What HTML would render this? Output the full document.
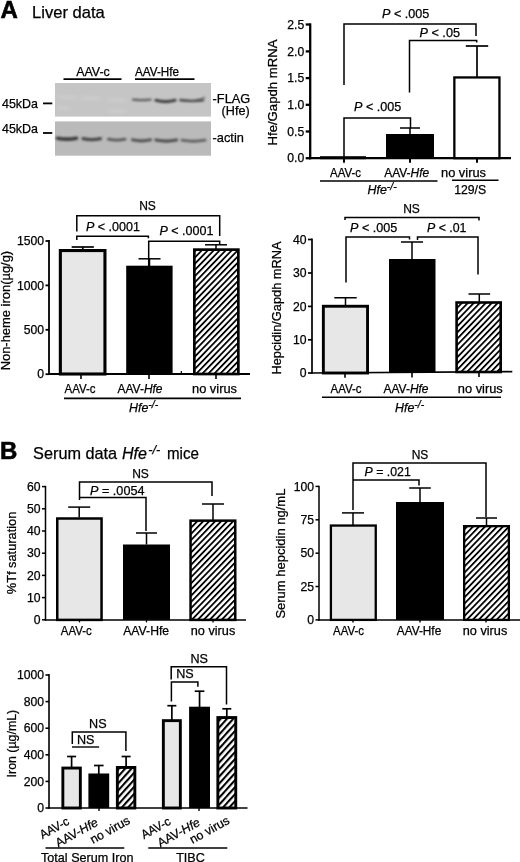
<!DOCTYPE html>
<html><head><meta charset="utf-8"><title>Figure</title>
<style>html,body{margin:0;padding:0;background:#fff}svg{display:block}text{font-family:"Liberation Sans", sans-serif;fill:#000;stroke:#000;stroke-width:0.25px}</style></head><body>
<svg width="520" height="862" viewBox="0 0 520 862">
<defs>
<pattern id="hatch" patternUnits="userSpaceOnUse" width="4.3" height="4.3" patternTransform="rotate(44)"><rect width="4.3" height="4.3" fill="#fff"/><rect x="0" y="0" width="1.8" height="4.3" fill="#000"/></pattern>
<pattern id="hatch6" patternUnits="userSpaceOnUse" width="4.7" height="4.7" patternTransform="rotate(42)"><rect width="4.7" height="4.7" fill="#fff"/><rect x="0" y="0" width="2.1" height="4.7" fill="#000"/></pattern>
<filter id="b1" filterUnits="userSpaceOnUse" x="40" y="80" width="190" height="80"><feGaussianBlur stdDeviation="1.3 0.95"/></filter>
<filter id="b2" filterUnits="userSpaceOnUse" x="40" y="80" width="190" height="80"><feGaussianBlur stdDeviation="2 1.5"/></filter>
</defs>
<rect width="520" height="862" fill="#fff"/>
<text x="0.5" y="18" font-size="24" text-anchor="start" font-weight="bold" font-style="normal" style="stroke-width:0.6px">A</text>
<text x="32" y="18" font-size="16.6" text-anchor="start" font-weight="normal" font-style="normal" textLength="72.8" lengthAdjust="spacingAndGlyphs">Liver data</text>
<text x="0" y="459" font-size="24" text-anchor="start" font-weight="bold" font-style="normal" style="stroke-width:0.6px">B</text>
<text x="33.1" y="459" font-size="16.6" text-anchor="start" font-weight="normal" font-style="normal" textLength="84" lengthAdjust="spacingAndGlyphs">Serum data</text>
<text x="122" y="459" font-size="16.6" text-anchor="start" font-weight="normal" font-style="italic" textLength="25" lengthAdjust="spacingAndGlyphs">Hfe</text>
<text x="148.3" y="454.3" font-size="13" text-anchor="start" font-weight="normal" font-style="italic" textLength="12" lengthAdjust="spacingAndGlyphs">-/-</text>
<text x="167" y="459" font-size="16.6" text-anchor="start" font-weight="normal" font-style="normal" textLength="32" lengthAdjust="spacingAndGlyphs">mice</text>
<rect x="55" y="83" width="156" height="33.6" fill="#c5c5c5"/>
<rect x="55" y="121.4" width="156" height="34.3" fill="#bababa"/>
<path d="M58,97 L76,97.5" stroke="#cdcdcd" stroke-width="3" fill="none" filter="url(#b2)"/>
<path d="M82,98 L100,98.5" stroke="#cdcdcd" stroke-width="3" fill="none" filter="url(#b2)"/>
<path d="M108,100 L125,100.5" stroke="#cdcdcd" stroke-width="3" fill="none" filter="url(#b2)"/>
<path d="M58,108 L70,108.5" stroke="#cdcdcd" stroke-width="3" fill="none" filter="url(#b2)"/>
<path d="M108,111 L125,111.5" stroke="#cdcdcd" stroke-width="3" fill="none" filter="url(#b2)"/>
<path d="M133,99.6 Q141.75,100.6 150.5,99.6" stroke="#606060" stroke-width="2.3" stroke-linecap="round" fill="none" filter="url(#b1)"/>
<path d="M156,100.3 Q165.5,102.89999999999999 175,100.3" stroke="#444" stroke-width="3.2" stroke-linecap="round" fill="none" filter="url(#b1)"/>
<path d="M180.5,100.2 Q191.75,101.8 203,100.2" stroke="#505050" stroke-width="2.7" stroke-linecap="round" fill="none" filter="url(#b1)"/>
<path d="M198,100.2 Q202,99.5 204.5,97.2" stroke="#666" stroke-width="1.4" stroke-linecap="round" fill="none" filter="url(#b1)"/>
<path d="M57.5,138.2 Q67.0,140.0 76.5,138.2" stroke="#3c3c3c" stroke-width="3.6" stroke-linecap="round" fill="none" filter="url(#b1)"/>
<path d="M83,138.6 Q91.75,140.6 100.5,138.6" stroke="#484848" stroke-width="3.2" stroke-linecap="round" fill="none" filter="url(#b1)"/>
<path d="M108.5,139.2 Q116.75,141.0 125,139.2" stroke="#585858" stroke-width="2.9" stroke-linecap="round" fill="none" filter="url(#b1)"/>
<path d="M132.5,139.8 Q141.5,141.8 150.5,139.8" stroke="#545454" stroke-width="3.2" stroke-linecap="round" fill="none" filter="url(#b1)"/>
<path d="M156,140.0 Q166.25,142.2 176.5,140.0" stroke="#505050" stroke-width="3.3" stroke-linecap="round" fill="none" filter="url(#b1)"/>
<path d="M182,140.2 Q193.5,142.39999999999998 205,140.2" stroke="#626262" stroke-width="2.9" stroke-linecap="round" fill="none" filter="url(#b1)"/>
<line x1="63.5" y1="79.2" x2="121.5" y2="79.2" stroke="#000" stroke-width="1.8" stroke-linecap="butt"/>
<line x1="135" y1="79.2" x2="194.5" y2="79.2" stroke="#000" stroke-width="1.8" stroke-linecap="butt"/>
<text x="93" y="76.3" font-size="12.8" text-anchor="middle" font-weight="normal" font-style="normal" textLength="33.5" lengthAdjust="spacingAndGlyphs">AAV-c</text>
<text x="135" y="76.3" font-size="12.6" text-anchor="start" font-weight="normal" font-style="normal" textLength="44" lengthAdjust="spacingAndGlyphs">AAV-Hfe</text>
<text x="2" y="107.8" font-size="13" text-anchor="start" font-weight="normal" font-style="normal" textLength="36" lengthAdjust="spacingAndGlyphs">45kDa</text>
<line x1="43" y1="103.4" x2="52.3" y2="103.4" stroke="#000" stroke-width="1.8" stroke-linecap="butt"/>
<text x="2" y="133.4" font-size="13" text-anchor="start" font-weight="normal" font-style="normal" textLength="36" lengthAdjust="spacingAndGlyphs">45kDa</text>
<line x1="43" y1="133" x2="52.3" y2="133" stroke="#000" stroke-width="1.8" stroke-linecap="butt"/>
<text x="212.6" y="102.5" font-size="12.8" text-anchor="start" font-weight="normal" font-style="normal">-FLAG</text>
<text x="221.6" y="115.3" font-size="12.6" text-anchor="start" font-weight="normal" font-style="normal">(Hfe)</text>
<text x="212.6" y="141.8" font-size="12.8" text-anchor="start" font-weight="normal" font-style="normal">-actin</text>
<line x1="310.2" y1="23.35" x2="310.2" y2="159.35" stroke="#000" stroke-width="2.3" stroke-linecap="butt"/>
<line x1="309.05" y1="158.2" x2="511" y2="158.2" stroke="#000" stroke-width="2.3" stroke-linecap="butt"/>
<line x1="305.7" y1="24.5" x2="310.2" y2="24.5" stroke="#000" stroke-width="2.3" stroke-linecap="butt"/>
<text x="304.2" y="28.7" font-size="12.2" text-anchor="end" font-weight="normal" font-style="normal">2.5</text>
<line x1="305.7" y1="51.4" x2="310.2" y2="51.4" stroke="#000" stroke-width="2.3" stroke-linecap="butt"/>
<text x="304.2" y="55.6" font-size="12.2" text-anchor="end" font-weight="normal" font-style="normal">2.0</text>
<line x1="305.7" y1="78.1" x2="310.2" y2="78.1" stroke="#000" stroke-width="2.3" stroke-linecap="butt"/>
<text x="304.2" y="82.3" font-size="12.2" text-anchor="end" font-weight="normal" font-style="normal">1.5</text>
<line x1="305.7" y1="104.8" x2="310.2" y2="104.8" stroke="#000" stroke-width="2.3" stroke-linecap="butt"/>
<text x="304.2" y="109.0" font-size="12.2" text-anchor="end" font-weight="normal" font-style="normal">1.0</text>
<line x1="305.7" y1="131.5" x2="310.2" y2="131.5" stroke="#000" stroke-width="2.3" stroke-linecap="butt"/>
<text x="304.2" y="135.7" font-size="12.2" text-anchor="end" font-weight="normal" font-style="normal">0.5</text>
<line x1="305.7" y1="158.2" x2="310.2" y2="158.2" stroke="#000" stroke-width="2.3" stroke-linecap="butt"/>
<text x="304.2" y="162.39999999999998" font-size="12.2" text-anchor="end" font-weight="normal" font-style="normal">0.0</text>
<line x1="344" y1="158.2" x2="344" y2="162.7" stroke="#000" stroke-width="2" stroke-linecap="butt"/>
<line x1="410" y1="158.2" x2="410" y2="162.7" stroke="#000" stroke-width="2" stroke-linecap="butt"/>
<line x1="477" y1="158.2" x2="477" y2="162.7" stroke="#000" stroke-width="2" stroke-linecap="butt"/>
<rect x="320" y="156.2" width="46" height="3.0" fill="#000"/>
<rect x="386" y="134" width="48" height="24.19999999999999" fill="#000"/>
<line x1="410" y1="128" x2="410" y2="134" stroke="#000" stroke-width="1.5" stroke-linecap="butt"/>
<line x1="400" y1="128" x2="420" y2="128" stroke="#000" stroke-width="1.5" stroke-linecap="butt"/>
<rect x="454.34999999999997" y="77.45" width="45.10000000000004" height="80.74999999999999" fill="#fff" stroke="#000" stroke-width="2.3"/>
<line x1="477" y1="46" x2="477" y2="78" stroke="#000" stroke-width="1.7" stroke-linecap="butt"/>
<line x1="465.8" y1="46" x2="488.2" y2="46" stroke="#000" stroke-width="1.7" stroke-linecap="butt"/>
<polyline points="344,85 344,24 476,24 476,36" fill="none" stroke="#000" stroke-width="1.5" stroke-linejoin="miter"/>
<polyline points="409.5,92.5 409.5,40.5 476.7,40.5 476.7,42.5" fill="none" stroke="#000" stroke-width="1.5" stroke-linejoin="miter"/>
<polyline points="344,158.2 344,118 410.5,118 410.5,128" fill="none" stroke="#000" stroke-width="1.5" stroke-linejoin="miter"/>
<text x="382" y="18" font-size="12.4" textLength="47.3" lengthAdjust="spacingAndGlyphs"><tspan font-style="italic">P</tspan> &lt; .005</text>
<text x="419.5" y="37" font-size="12.4" textLength="40.5" lengthAdjust="spacingAndGlyphs"><tspan font-style="italic">P</tspan> &lt; .05</text>
<text x="354" y="111" font-size="12.4" textLength="47.3" lengthAdjust="spacingAndGlyphs"><tspan font-style="italic">P</tspan> &lt; .005</text>
<text x="345.5" y="176.6" font-size="12.4" text-anchor="middle" font-weight="normal" font-style="normal" textLength="31" lengthAdjust="spacingAndGlyphs">AAV-c</text>
<text x="406.7" y="176.6" font-size="12.4" text-anchor="middle" textLength="45" lengthAdjust="spacingAndGlyphs">AAV-<tspan font-style="italic">Hfe</tspan></text>
<text x="463.5" y="176.6" font-size="12.4" text-anchor="middle" font-weight="normal" font-style="normal" textLength="45" lengthAdjust="spacingAndGlyphs">no virus</text>
<line x1="320" y1="181" x2="437.5" y2="181" stroke="#000" stroke-width="1.6" stroke-linecap="butt"/>
<line x1="452" y1="180.3" x2="498.5" y2="180.3" stroke="#000" stroke-width="1.6" stroke-linecap="butt"/>
<text x="367.5" y="194" font-size="12.4" font-style="italic">Hfe<tspan font-size="10.5" dy="-4">-/-</tspan></text>
<text x="470.2" y="193.6" font-size="12.4" text-anchor="middle" font-weight="normal" font-style="normal" textLength="32" lengthAdjust="spacingAndGlyphs">129/S</text>
<text x="276.5" y="92.5" font-size="12" text-anchor="middle" font-weight="normal" font-style="normal" transform="rotate(-90 276.5 92.5)" textLength="106" lengthAdjust="spacingAndGlyphs">Hfe/Gapdh mRNA</text>
<line x1="49" y1="240.1" x2="49" y2="374.9" stroke="#000" stroke-width="1.8" stroke-linecap="butt"/>
<line x1="48.1" y1="374" x2="250" y2="374" stroke="#000" stroke-width="1.8" stroke-linecap="butt"/>
<line x1="45.5" y1="241" x2="49" y2="241" stroke="#000" stroke-width="1.8" stroke-linecap="butt"/>
<text x="44.0" y="245.2" font-size="12.2" text-anchor="end" font-weight="normal" font-style="normal">1500</text>
<line x1="45.5" y1="285.4" x2="49" y2="285.4" stroke="#000" stroke-width="1.8" stroke-linecap="butt"/>
<text x="44.0" y="289.59999999999997" font-size="12.2" text-anchor="end" font-weight="normal" font-style="normal">1000</text>
<line x1="45.5" y1="329.8" x2="49" y2="329.8" stroke="#000" stroke-width="1.8" stroke-linecap="butt"/>
<text x="44.0" y="334.0" font-size="12.2" text-anchor="end" font-weight="normal" font-style="normal">500</text>
<line x1="45.5" y1="374.2" x2="49" y2="374.2" stroke="#000" stroke-width="1.8" stroke-linecap="butt"/>
<text x="44.0" y="378.4" font-size="12.2" text-anchor="end" font-weight="normal" font-style="normal">0</text>
<line x1="81" y1="374" x2="81" y2="379" stroke="#000" stroke-width="1.6" stroke-linecap="butt"/>
<line x1="149" y1="374" x2="149" y2="379" stroke="#000" stroke-width="1.6" stroke-linecap="butt"/>
<line x1="216" y1="374" x2="216" y2="379" stroke="#000" stroke-width="1.6" stroke-linecap="butt"/>
<rect x="60.349999999999994" y="250.55" width="44.6" height="123.45" fill="#e7e7e7" stroke="#000" stroke-width="3.1"/>
<line x1="82.75" y1="247" x2="82.75" y2="250" stroke="#000" stroke-width="1.7" stroke-linecap="butt"/>
<line x1="71.65" y1="247" x2="93.85" y2="247" stroke="#000" stroke-width="1.7" stroke-linecap="butt"/>
<rect x="126.2" y="265.7" width="46.39999999999999" height="108.30000000000001" fill="#000"/>
<line x1="149.5" y1="258.8" x2="149.5" y2="266" stroke="#000" stroke-width="1.5" stroke-linecap="butt"/>
<line x1="138.5" y1="258.8" x2="160.5" y2="258.8" stroke="#000" stroke-width="1.5" stroke-linecap="butt"/>
<rect x="194.35" y="249.65" width="43.999999999999986" height="124.35" fill="url(#hatch)" stroke="#000" stroke-width="2.7"/>
<line x1="216" y1="244.8" x2="216" y2="249" stroke="#000" stroke-width="1.5" stroke-linecap="butt"/>
<line x1="205" y1="244.8" x2="227" y2="244.8" stroke="#000" stroke-width="1.5" stroke-linecap="butt"/>
<polyline points="76.8,231.5 76.8,215.7 219.7,215.7 219.7,236" fill="none" stroke="#000" stroke-width="1.5" stroke-linejoin="miter"/>
<polyline points="76.8,240 76.8,236.2 148.4,236.2 148.4,238.3" fill="none" stroke="#000" stroke-width="1.5" stroke-linejoin="miter"/>
<polyline points="148.7,266 148.7,241.3 219.7,241.3 219.7,245" fill="none" stroke="#000" stroke-width="1.5" stroke-linejoin="miter"/>
<text x="147.5" y="210" font-size="12" text-anchor="middle" font-weight="normal" font-style="normal">NS</text>
<text x="86" y="230.5" font-size="12.4" textLength="54" lengthAdjust="spacingAndGlyphs"><tspan font-style="italic">P</tspan> &lt; .0001</text>
<text x="159.5" y="235" font-size="12.4" textLength="54" lengthAdjust="spacingAndGlyphs"><tspan font-style="italic">P</tspan> &lt; .0001</text>
<text x="80" y="393.3" font-size="12.4" text-anchor="middle" font-weight="normal" font-style="normal" textLength="31" lengthAdjust="spacingAndGlyphs">AAV-c</text>
<text x="140" y="393.3" font-size="12.4" text-anchor="middle" textLength="45" lengthAdjust="spacingAndGlyphs">AAV-<tspan font-style="italic">Hfe</tspan></text>
<text x="214.5" y="393.3" font-size="12.4" text-anchor="middle" font-weight="normal" font-style="normal" textLength="45" lengthAdjust="spacingAndGlyphs">no virus</text>
<line x1="64" y1="398.4" x2="241" y2="398.4" stroke="#000" stroke-width="1.6" stroke-linecap="butt"/>
<line x1="181.3" y1="371" x2="181.3" y2="374" stroke="#000" stroke-width="1.2" stroke-linecap="butt"/>
<text x="129" y="412" font-size="12.4" font-style="italic">Hfe<tspan font-size="10.5" dy="-4">-/-</tspan></text>
<text x="10.3" y="310.6" font-size="12" text-anchor="middle" font-weight="normal" font-style="normal" transform="rotate(-90 10.3 310.6)" textLength="119.5" lengthAdjust="spacingAndGlyphs">Non-heme iron(µg/g)</text>
<line x1="312" y1="238.55" x2="312" y2="373.85" stroke="#000" stroke-width="1.7" stroke-linecap="butt"/>
<line x1="311.15" y1="373" x2="512.3" y2="371.7" stroke="#000" stroke-width="1.7" stroke-linecap="butt"/>
<line x1="308" y1="239.5" x2="312" y2="239.5" stroke="#000" stroke-width="1.7" stroke-linecap="butt"/>
<text x="306.5" y="243.7" font-size="12.2" text-anchor="end" font-weight="normal" font-style="normal">40</text>
<line x1="308" y1="273" x2="312" y2="273" stroke="#000" stroke-width="1.7" stroke-linecap="butt"/>
<text x="306.5" y="277.2" font-size="12.2" text-anchor="end" font-weight="normal" font-style="normal">30</text>
<line x1="308" y1="306.4" x2="312" y2="306.4" stroke="#000" stroke-width="1.7" stroke-linecap="butt"/>
<text x="306.5" y="310.59999999999997" font-size="12.2" text-anchor="end" font-weight="normal" font-style="normal">20</text>
<line x1="308" y1="339.8" x2="312" y2="339.8" stroke="#000" stroke-width="1.7" stroke-linecap="butt"/>
<text x="306.5" y="344.0" font-size="12.2" text-anchor="end" font-weight="normal" font-style="normal">10</text>
<line x1="308" y1="373" x2="312" y2="373" stroke="#000" stroke-width="1.7" stroke-linecap="butt"/>
<text x="306.5" y="377.2" font-size="12.2" text-anchor="end" font-weight="normal" font-style="normal">0</text>
<line x1="345" y1="372.8" x2="345" y2="377.8" stroke="#000" stroke-width="1.6" stroke-linecap="butt"/>
<line x1="412" y1="372.4" x2="412" y2="377.4" stroke="#000" stroke-width="1.6" stroke-linecap="butt"/>
<line x1="479" y1="371.9" x2="479" y2="376.9" stroke="#000" stroke-width="1.6" stroke-linecap="butt"/>
<rect x="323.34999999999997" y="306.25" width="44.200000000000024" height="66.74999999999999" fill="#e7e7e7" stroke="#000" stroke-width="2.9"/>
<line x1="345.5" y1="297.75" x2="345.5" y2="305.5" stroke="#000" stroke-width="1.5" stroke-linecap="butt"/>
<line x1="334.3" y1="297.75" x2="356.7" y2="297.75" stroke="#000" stroke-width="1.5" stroke-linecap="butt"/>
<rect x="389" y="259" width="46.5" height="113.5" fill="#000"/>
<line x1="412" y1="242" x2="412" y2="259" stroke="#000" stroke-width="1.5" stroke-linecap="butt"/>
<line x1="401" y1="242" x2="423" y2="242" stroke="#000" stroke-width="1.5" stroke-linecap="butt"/>
<rect x="456.6" y="302.5" width="44.09999999999999" height="69.50000000000001" fill="url(#hatch)" stroke="#000" stroke-width="2.6"/>
<line x1="479.3" y1="294" x2="479.3" y2="302" stroke="#000" stroke-width="1.5" stroke-linecap="butt"/>
<line x1="468.5" y1="294" x2="490.1" y2="294" stroke="#000" stroke-width="1.5" stroke-linecap="butt"/>
<polyline points="345,220 345,217.5 479,217.5 479,220.5" fill="none" stroke="#000" stroke-width="1.5" stroke-linejoin="miter"/>
<polyline points="346,282.5 346,237 409.5,237 409.5,239.5" fill="none" stroke="#000" stroke-width="1.5" stroke-linejoin="miter"/>
<polyline points="417.5,240 417.5,237 478,237 478,274.5" fill="none" stroke="#000" stroke-width="1.5" stroke-linejoin="miter"/>
<text x="411.5" y="213" font-size="12" text-anchor="middle" font-weight="normal" font-style="normal">NS</text>
<text x="350" y="232" font-size="12.4" textLength="47.3" lengthAdjust="spacingAndGlyphs"><tspan font-style="italic">P</tspan> &lt; .005</text>
<text x="427" y="232" font-size="12.4" textLength="39.5" lengthAdjust="spacingAndGlyphs"><tspan font-style="italic">P</tspan> &lt; .01</text>
<text x="346" y="392.5" font-size="12.4" text-anchor="middle" font-weight="normal" font-style="normal" textLength="31" lengthAdjust="spacingAndGlyphs">AAV-c</text>
<text x="406" y="392.5" font-size="12.4" text-anchor="middle" textLength="45" lengthAdjust="spacingAndGlyphs">AAV-<tspan font-style="italic">Hfe</tspan></text>
<text x="480.3" y="392.5" font-size="12.4" text-anchor="middle" font-weight="normal" font-style="normal" textLength="45" lengthAdjust="spacingAndGlyphs">no virus</text>
<line x1="322" y1="397.3" x2="501" y2="397.3" stroke="#000" stroke-width="1.6" stroke-linecap="butt"/>
<text x="395" y="411.5" font-size="12.4" font-style="italic">Hfe<tspan font-size="10.5" dy="-4">-/-</tspan></text>
<text x="281" y="308" font-size="12" text-anchor="middle" font-weight="normal" font-style="normal" transform="rotate(-90 281 308)" textLength="133" lengthAdjust="spacingAndGlyphs">Hepcidin/Gapdh mRNA</text>
<line x1="45.5" y1="485.85" x2="45.5" y2="620.65" stroke="#000" stroke-width="1.5" stroke-linecap="butt"/>
<line x1="44.75" y1="619.9" x2="246" y2="619.9" stroke="#000" stroke-width="1.5" stroke-linecap="butt"/>
<line x1="42.0" y1="486.6" x2="45.5" y2="486.6" stroke="#000" stroke-width="1.5" stroke-linecap="butt"/>
<text x="40.5" y="490.8" font-size="12.2" text-anchor="end" font-weight="normal" font-style="normal">60</text>
<line x1="42.0" y1="508.8" x2="45.5" y2="508.8" stroke="#000" stroke-width="1.5" stroke-linecap="butt"/>
<text x="40.5" y="513.0" font-size="12.2" text-anchor="end" font-weight="normal" font-style="normal">50</text>
<line x1="42.0" y1="531" x2="45.5" y2="531" stroke="#000" stroke-width="1.5" stroke-linecap="butt"/>
<text x="40.5" y="535.2" font-size="12.2" text-anchor="end" font-weight="normal" font-style="normal">40</text>
<line x1="42.0" y1="553.2" x2="45.5" y2="553.2" stroke="#000" stroke-width="1.5" stroke-linecap="butt"/>
<text x="40.5" y="557.4000000000001" font-size="12.2" text-anchor="end" font-weight="normal" font-style="normal">30</text>
<line x1="42.0" y1="575.4" x2="45.5" y2="575.4" stroke="#000" stroke-width="1.5" stroke-linecap="butt"/>
<text x="40.5" y="579.6" font-size="12.2" text-anchor="end" font-weight="normal" font-style="normal">20</text>
<line x1="42.0" y1="597.6" x2="45.5" y2="597.6" stroke="#000" stroke-width="1.5" stroke-linecap="butt"/>
<text x="40.5" y="601.8000000000001" font-size="12.2" text-anchor="end" font-weight="normal" font-style="normal">10</text>
<line x1="42.0" y1="619.8" x2="45.5" y2="619.8" stroke="#000" stroke-width="1.5" stroke-linecap="butt"/>
<text x="40.5" y="624.0" font-size="12.2" text-anchor="end" font-weight="normal" font-style="normal">0</text>
<rect x="57.25" y="518.5" width="44.3" height="101.39999999999998" fill="#e7e7e7" stroke="#000" stroke-width="2.5"/>
<line x1="79.2" y1="507.1" x2="79.2" y2="517.5" stroke="#000" stroke-width="1.5" stroke-linecap="butt"/>
<line x1="68.2" y1="507.1" x2="90.2" y2="507.1" stroke="#000" stroke-width="1.5" stroke-linecap="butt"/>
<rect x="123" y="544.5" width="47" height="75.39999999999998" fill="#000"/>
<line x1="146.5" y1="533" x2="146.5" y2="544.5" stroke="#000" stroke-width="1.5" stroke-linecap="butt"/>
<line x1="136.0" y1="533" x2="157.0" y2="533" stroke="#000" stroke-width="1.5" stroke-linecap="butt"/>
<rect x="190.55" y="520.65" width="44.69999999999999" height="99.25" fill="url(#hatch)" stroke="#000" stroke-width="2.5"/>
<line x1="213" y1="504" x2="213" y2="520" stroke="#000" stroke-width="1.5" stroke-linecap="butt"/>
<line x1="202" y1="504" x2="224" y2="504" stroke="#000" stroke-width="1.5" stroke-linecap="butt"/>
<polyline points="79.5,500 79.5,482 212,482 212,496" fill="none" stroke="#000" stroke-width="1.5" stroke-linejoin="miter"/>
<polyline points="79.5,497.5 146,497.5 146,531" fill="none" stroke="#000" stroke-width="1.5" stroke-linejoin="miter"/>
<text x="140.5" y="477.5" font-size="12" text-anchor="middle" font-weight="normal" font-style="normal">NS</text>
<text x="90" y="495" font-size="12.4" textLength="54.5" lengthAdjust="spacingAndGlyphs"><tspan font-style="italic">P</tspan> = .0054</text>
<text x="76.3" y="634.7" font-size="12.4" text-anchor="middle" font-weight="normal" font-style="normal" textLength="31" lengthAdjust="spacingAndGlyphs">AAV-c</text>
<text x="146.2" y="634.7" font-size="12.6" text-anchor="middle" font-weight="normal" font-style="normal" textLength="46" lengthAdjust="spacingAndGlyphs">AAV-Hfe</text>
<text x="213" y="634.7" font-size="12.4" text-anchor="middle" font-weight="normal" font-style="normal" textLength="44.5" lengthAdjust="spacingAndGlyphs">no virus</text>
<line x1="79.5" y1="619.9" x2="79.5" y2="622.4" stroke="#000" stroke-width="1.3" stroke-linecap="butt"/>
<line x1="146.5" y1="619.9" x2="146.5" y2="622.4" stroke="#000" stroke-width="1.3" stroke-linecap="butt"/>
<line x1="213" y1="619.9" x2="213" y2="622.4" stroke="#000" stroke-width="1.3" stroke-linecap="butt"/>
<text x="16.3" y="553" font-size="12" text-anchor="middle" font-weight="normal" font-style="normal" transform="rotate(-90 16.3 553)" textLength="82.5" lengthAdjust="spacingAndGlyphs">%Tf saturation</text>
<line x1="319" y1="485.65" x2="319" y2="620.65" stroke="#000" stroke-width="1.5" stroke-linecap="butt"/>
<line x1="318.25" y1="619.9" x2="520" y2="619.9" stroke="#000" stroke-width="1.5" stroke-linecap="butt"/>
<line x1="315.5" y1="486.4" x2="319" y2="486.4" stroke="#000" stroke-width="1.5" stroke-linecap="butt"/>
<text x="314.0" y="490.59999999999997" font-size="12.2" text-anchor="end" font-weight="normal" font-style="normal">100</text>
<line x1="315.5" y1="519.8" x2="319" y2="519.8" stroke="#000" stroke-width="1.5" stroke-linecap="butt"/>
<text x="314.0" y="524.0" font-size="12.2" text-anchor="end" font-weight="normal" font-style="normal">75</text>
<line x1="315.5" y1="553.2" x2="319" y2="553.2" stroke="#000" stroke-width="1.5" stroke-linecap="butt"/>
<text x="314.0" y="557.4000000000001" font-size="12.2" text-anchor="end" font-weight="normal" font-style="normal">50</text>
<line x1="315.5" y1="586.5" x2="319" y2="586.5" stroke="#000" stroke-width="1.5" stroke-linecap="butt"/>
<text x="314.0" y="590.7" font-size="12.2" text-anchor="end" font-weight="normal" font-style="normal">25</text>
<line x1="315.5" y1="619.9" x2="319" y2="619.9" stroke="#000" stroke-width="1.5" stroke-linecap="butt"/>
<text x="314.0" y="624.1" font-size="12.2" text-anchor="end" font-weight="normal" font-style="normal">0</text>
<line x1="353" y1="619.9" x2="353" y2="622.4" stroke="#000" stroke-width="1.4" stroke-linecap="butt"/>
<line x1="420" y1="619.9" x2="420" y2="622.4" stroke="#000" stroke-width="1.4" stroke-linecap="butt"/>
<line x1="486" y1="619.9" x2="486" y2="622.4" stroke="#000" stroke-width="1.4" stroke-linecap="butt"/>
<rect x="330.9" y="525.55" width="44.84999999999998" height="94.35" fill="#e7e7e7" stroke="#000" stroke-width="2.3"/>
<line x1="353" y1="512.9" x2="353" y2="525" stroke="#000" stroke-width="1.5" stroke-linecap="butt"/>
<line x1="342" y1="512.9" x2="364" y2="512.9" stroke="#000" stroke-width="1.5" stroke-linecap="butt"/>
<rect x="396" y="502" width="48" height="117.89999999999998" fill="#000"/>
<line x1="420" y1="488" x2="420" y2="502" stroke="#000" stroke-width="1.5" stroke-linecap="butt"/>
<line x1="409.2" y1="488" x2="430.8" y2="488" stroke="#000" stroke-width="1.5" stroke-linecap="butt"/>
<rect x="464.15" y="526.15" width="44.7" height="93.74999999999997" fill="url(#hatch)" stroke="#000" stroke-width="2.3"/>
<line x1="486.5" y1="518" x2="486.5" y2="525" stroke="#000" stroke-width="1.5" stroke-linecap="butt"/>
<line x1="476.0" y1="518" x2="497.0" y2="518" stroke="#000" stroke-width="1.5" stroke-linecap="butt"/>
<polyline points="353,510 353,463 486,463 486,517" fill="none" stroke="#000" stroke-width="1.5" stroke-linejoin="miter"/>
<polyline points="353,480 419,480 419,485.5" fill="none" stroke="#000" stroke-width="1.5" stroke-linejoin="miter"/>
<text x="420" y="459" font-size="12" text-anchor="middle" font-weight="normal" font-style="normal">NS</text>
<text x="364.5" y="476" font-size="12.4" textLength="46.3" lengthAdjust="spacingAndGlyphs"><tspan font-style="italic">P</tspan> = .021</text>
<text x="348.5" y="634.6" font-size="12.4" text-anchor="middle" font-weight="normal" font-style="normal" textLength="31" lengthAdjust="spacingAndGlyphs">AAV-c</text>
<text x="419" y="634.6" font-size="12.4" text-anchor="middle" font-weight="normal" font-style="normal" textLength="44.5" lengthAdjust="spacingAndGlyphs">AAV-Hfe</text>
<text x="485" y="634.7" font-size="12.4" text-anchor="middle" font-weight="normal" font-style="normal" textLength="44.5" lengthAdjust="spacingAndGlyphs">no virus</text>
<text x="285" y="553.6" font-size="12" text-anchor="middle" font-weight="normal" font-style="normal" transform="rotate(-90 285 553.6)" textLength="130" lengthAdjust="spacingAndGlyphs">Serum hepcidin ng/mL</text>
<line x1="49" y1="673.9000000000001" x2="49" y2="808.8" stroke="#000" stroke-width="1.6" stroke-linecap="butt"/>
<line x1="48.2" y1="808" x2="247.5" y2="808" stroke="#000" stroke-width="1.6" stroke-linecap="butt"/>
<line x1="45.5" y1="675" x2="49" y2="675" stroke="#000" stroke-width="1.6" stroke-linecap="butt"/>
<text x="44.0" y="679.2" font-size="12.2" text-anchor="end" font-weight="normal" font-style="normal">1000</text>
<line x1="45.5" y1="701.6" x2="49" y2="701.6" stroke="#000" stroke-width="1.6" stroke-linecap="butt"/>
<text x="44.0" y="705.8000000000001" font-size="12.2" text-anchor="end" font-weight="normal" font-style="normal">800</text>
<line x1="45.5" y1="728.2" x2="49" y2="728.2" stroke="#000" stroke-width="1.6" stroke-linecap="butt"/>
<text x="44.0" y="732.4000000000001" font-size="12.2" text-anchor="end" font-weight="normal" font-style="normal">600</text>
<line x1="45.5" y1="754.8" x2="49" y2="754.8" stroke="#000" stroke-width="1.6" stroke-linecap="butt"/>
<text x="44.0" y="759.0" font-size="12.2" text-anchor="end" font-weight="normal" font-style="normal">400</text>
<line x1="45.5" y1="781.4" x2="49" y2="781.4" stroke="#000" stroke-width="1.6" stroke-linecap="butt"/>
<text x="44.0" y="785.6" font-size="12.2" text-anchor="end" font-weight="normal" font-style="normal">200</text>
<line x1="45.5" y1="808" x2="49" y2="808" stroke="#000" stroke-width="1.6" stroke-linecap="butt"/>
<text x="44.0" y="812.2" font-size="12.2" text-anchor="end" font-weight="normal" font-style="normal">0</text>
<line x1="99" y1="808" x2="99" y2="811" stroke="#000" stroke-width="1.4" stroke-linecap="butt"/>
<line x1="199" y1="808" x2="199" y2="811" stroke="#000" stroke-width="1.4" stroke-linecap="butt"/>
<rect x="62.85" y="768.0500000000001" width="17.5" height="39.949999999999974" fill="#e7e7e7" stroke="#000" stroke-width="2.9"/>
<line x1="71.6" y1="756.5" x2="71.6" y2="767.6" stroke="#000" stroke-width="1.7" stroke-linecap="butt"/>
<line x1="67.1" y1="756.5" x2="76.1" y2="756.5" stroke="#000" stroke-width="1.7" stroke-linecap="butt"/>
<rect x="88.4" y="773.5" width="20.799999999999997" height="34.5" fill="#000"/>
<line x1="98.80000000000001" y1="765.5" x2="98.80000000000001" y2="774.5" stroke="#000" stroke-width="1.7" stroke-linecap="butt"/>
<line x1="94.00000000000001" y1="765.5" x2="103.60000000000001" y2="765.5" stroke="#000" stroke-width="1.7" stroke-linecap="butt"/>
<rect x="117.35000000000001" y="767.45" width="17.500000000000007" height="40.55" fill="url(#hatch6)" stroke="#000" stroke-width="2.9"/>
<line x1="126.10000000000001" y1="756.5" x2="126.10000000000001" y2="767" stroke="#000" stroke-width="1.7" stroke-linecap="butt"/>
<line x1="121.60000000000001" y1="756.5" x2="130.60000000000002" y2="756.5" stroke="#000" stroke-width="1.7" stroke-linecap="butt"/>
<rect x="163.35" y="720.6500000000001" width="17.000000000000007" height="87.34999999999995" fill="#e7e7e7" stroke="#000" stroke-width="2.9"/>
<line x1="171.85000000000002" y1="705.7" x2="171.85000000000002" y2="720.2" stroke="#000" stroke-width="1.7" stroke-linecap="butt"/>
<line x1="167.35000000000002" y1="705.7" x2="176.35000000000002" y2="705.7" stroke="#000" stroke-width="1.7" stroke-linecap="butt"/>
<rect x="189.1" y="706.7" width="20.900000000000006" height="101.29999999999995" fill="#000"/>
<line x1="199.55" y1="691.2" x2="199.55" y2="707.7" stroke="#000" stroke-width="1.7" stroke-linecap="butt"/>
<line x1="194.75" y1="691.2" x2="204.35000000000002" y2="691.2" stroke="#000" stroke-width="1.7" stroke-linecap="butt"/>
<rect x="217.85" y="717.5500000000001" width="17.899999999999984" height="90.44999999999997" fill="url(#hatch6)" stroke="#000" stroke-width="2.9"/>
<line x1="226.8" y1="708.8" x2="226.8" y2="717.1" stroke="#000" stroke-width="1.7" stroke-linecap="butt"/>
<line x1="222.3" y1="708.8" x2="231.3" y2="708.8" stroke="#000" stroke-width="1.7" stroke-linecap="butt"/>
<polyline points="72.3,744 72.3,732 125.9,732 125.9,751" fill="none" stroke="#000" stroke-width="1.5" stroke-linejoin="miter"/>
<line x1="72" y1="747" x2="99.1" y2="747" stroke="#000" stroke-width="1.4" stroke-linecap="butt"/>
<text x="97.8" y="727.5" font-size="12.6" text-anchor="middle" font-weight="normal" font-style="normal">NS</text>
<text x="85.7" y="743.5" font-size="12.6" text-anchor="middle" font-weight="normal" font-style="normal">NS</text>
<polyline points="171.2,679.4 171.2,666.8 226.5,666.8 226.5,704.5" fill="none" stroke="#000" stroke-width="1.5" stroke-linejoin="miter"/>
<polyline points="171.4,701.6 171.4,682 197.9,682 197.9,686.7" fill="none" stroke="#000" stroke-width="1.5" stroke-linejoin="miter"/>
<text x="199.2" y="662.5" font-size="12.6" text-anchor="middle" font-weight="normal" font-style="normal">NS</text>
<text x="185" y="677.7" font-size="12.6" text-anchor="middle" font-weight="normal" font-style="normal">NS</text>
<text x="70" y="824" font-size="12.4" text-anchor="end" font-weight="normal" font-style="normal" transform="rotate(-29 70 824)" textLength="31.5" lengthAdjust="spacingAndGlyphs">AAV-c</text>
<text x="99" y="825" font-size="12.4" text-anchor="end" transform="rotate(-29 99 825)">AAV-<tspan font-style="italic">Hfe</tspan></text>
<text x="131" y="823" font-size="12.4" text-anchor="end" font-weight="normal" font-style="normal" transform="rotate(-29 131 823)">no virus</text>
<text x="171.5" y="824" font-size="12.4" text-anchor="end" font-weight="normal" font-style="normal" transform="rotate(-29 171.5 824)" textLength="31.5" lengthAdjust="spacingAndGlyphs">AAV-c</text>
<text x="201" y="825" font-size="12.4" text-anchor="end" transform="rotate(-29 201 825)">AAV-<tspan font-style="italic">Hfe</tspan></text>
<text x="230.5" y="823" font-size="12.4" text-anchor="end" font-weight="normal" font-style="normal" transform="rotate(-29 230.5 823)">no virus</text>
<line x1="45.5" y1="848" x2="124.3" y2="848" stroke="#000" stroke-width="1.6" stroke-linecap="butt"/>
<line x1="148.3" y1="848" x2="227.3" y2="848" stroke="#000" stroke-width="1.6" stroke-linecap="butt"/>
<text x="41" y="862" font-size="12.6" text-anchor="start" font-weight="normal" font-style="normal" textLength="92.5" lengthAdjust="spacingAndGlyphs">Total Serum Iron</text>
<text x="190.5" y="862" font-size="12.6" text-anchor="middle" font-weight="normal" font-style="normal">TIBC</text>
<text x="15.8" y="743.6" font-size="12" text-anchor="middle" font-weight="normal" font-style="normal" transform="rotate(-90 15.8 743.6)" textLength="67.6" lengthAdjust="spacingAndGlyphs">Iron (µg/mL)</text>
</svg></body></html>
